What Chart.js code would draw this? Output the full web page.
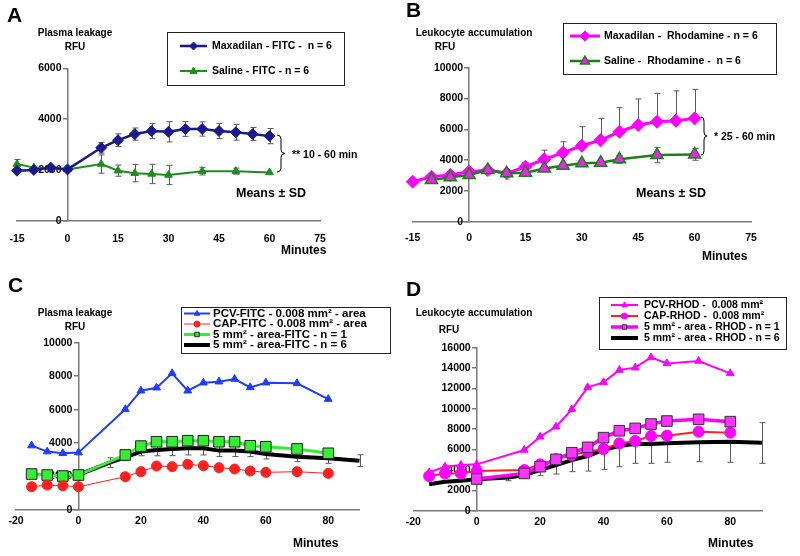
<!DOCTYPE html>
<html><head><meta charset="utf-8">
<style>
html,body{margin:0;padding:0;background:#fff;width:800px;height:556px;overflow:hidden}
canvas{position:absolute;left:0;top:0}
</style>
<script src="https://cdn.jsdelivr.net/npm/chart.js"></script>
</head><body>
<canvas id="cA" width="800" height="556"></canvas>
<canvas id="cB" width="800" height="556"></canvas>
<canvas id="cC" width="800" height="556"></canvas>
<canvas id="cD" width="800" height="556"></canvas>
<script>
// ---------- Panel A data ----------
const minutesA_max = [-15,-10,-5,0,10,15,20,25,30,35,40,45,50,55,60];
const maxadilanFITC = [1970,2000,2090,2020,2870,3170,3410,3530,3500,3610,3610,3530,3480,3410,3330];
const sdMaxadilanFITC = [0,0,0,0,210,250,240,300,400,290,280,300,310,260,300];
const minutesA_sal = [-15,-10,0,10,15,20,25,30,40,50,60];
const salineFITC = [2230,2090,2020,2230,1970,1870,1840,1800,1950,1950,1900];
const sdSalineFITC = [180,0,0,360,220,340,380,380,150,120,0];
const xTicksAB = [-15,0,15,30,45,60,75];
const yTicksA = [0,2000,4000,6000];

// ---------- Panel B data ----------
const minutesB_max = [-15,-10,-5,0,5,10,15,20,25,30,35,40,45,50,55,60];
const maxadilanRhod = [2600,2920,3030,3250,3350,3140,3570,4050,4480,4930,5300,5840,6280,6490,6560,6710];
const sdPlusMaxadilanRhod = [0,0,0,0,0,0,280,600,710,1240,1410,1560,1690,1840,1940,1880];
const minutesB_sal = [-10,-5,0,5,10,15,20,25,30,35,40,50,60];
const salineRhod = [2700,2880,3030,3350,3140,3180,3460,3640,3790,3830,4050,4330,4370];
const sdSalineRhod = [0,0,0,0,0,200,0,0,0,0,250,500,380];
const yTicksB = [0,2000,4000,6000,8000,10000];

// ---------- Panel C data ----------
const minutesC = [-15,-10,-5,0,15,20,25,30,35,40,45,50,55,60,70,80];
const pcvFITC = [3850,3490,3390,3430,6020,7130,7310,8170,7130,7610,7670,7830,7330,7610,7570,6630];
const capFITC = [1390,1490,1450,1390,1990,2290,2630,2590,2730,2650,2530,2450,2330,2250,2290,2190];
const area1FITC = [2150,2090,2030,2090,3290,3820,4080,4080,4140,4140,4080,4080,3840,3780,3650,3390];
const minutesC6 = [0,10,15,20,25,30,35,40,45,50,55,60,70,80,90];
const area6FITC = [2100,2830,3150,3490,3590,3650,3690,3690,3550,3550,3490,3350,3190,3090,2950];
const sdArea6FITC = [0,290,200,250,350,400,400,400,350,350,300,300,300,300,350];
const xTicksCD = [-20,0,20,40,60,80];
const yTicksC = [0,2000,4000,6000,8000,10000];

// ---------- Panel D data ----------
const minutesD = [-15,-10,-5,0,15,20,25,30,35,40,45,50,55,60,70,80];
const pcvRHOD = [3760,4320,4480,4550,5960,7260,8250,9950,12110,12600,13810,14040,15050,14460,14690,13480];
const capRHOD = [3400,3660,3660,3890,3990,4550,5040,5460,5790,6050,6610,6840,7330,7360,7760,7660];
const minutesD1 = [0,15,20,25,30,35,40,45,50,55,60,70,80];
const area1RHOD = [3110,3660,4320,5040,5690,6220,7170,7850,8080,8510,8800,8970,8740];
const minutesD6 = [-15,-10,-5,0,10,15,20,25,30,35,40,45,50,55,60,70,80,90];
const area6RHOD = [2590,2850,2950,3080,3270,3500,3990,4480,4970,5370,5960,6380,6540,6540,6610,6710,6770,6680];
const sdMinusArea6RHOD = [0,0,0,0,330,330,550,880,1140,1480,1900,2060,1890,1890,1860,1900,2020,2030];
const sdPlusArea6RHOD = [0,0,0,0,0,0,0,0,0,0,0,0,0,0,0,0,0,1960];
const yTicksD = [0,2000,4000,6000,8000,10000,12000,14000,16000];

// ---------- helpers ----------
const FF = '"Liberation Sans", Arial, Helvetica, sans-serif';
const AXC = '#7a7a7a';
const XH = 30;
function pts(xs, ys){ return xs.map((x,i)=>({x:x, y:ys[i]})); }

const errorBarPlugin = {
  id: 'errbars',
  beforeDatasetsDraw(chart){
    const ctx = chart.ctx, sx = chart.scales.x, sy = chart.scales.y;
    chart.data.datasets.forEach(ds=>{
      if(!ds.errMinus && !ds.errPlus) return;
      ctx.save();
      ctx.strokeStyle = '#5a5a5a'; ctx.lineWidth = 1;
      ds.data.forEach((p,i)=>{
        const m = ds.errMinus ? ds.errMinus[i] : 0;
        const pl = ds.errPlus ? ds.errPlus[i] : 0;
        if(!m && !pl) return;
        const px = Math.round(sx.getPixelForValue(p.x))+0.5;
        const yT = sy.getPixelForValue(p.y + pl), yB = sy.getPixelForValue(p.y - m);
        ctx.beginPath();
        ctx.moveTo(px, yT); ctx.lineTo(px, yB);
        if(pl){ ctx.moveTo(px-3, yT); ctx.lineTo(px+3, yT); }
        if(m){ ctx.moveTo(px-3, yB); ctx.lineTo(px+3, yB); }
        ctx.stroke();
      });
      ctx.restore();
    });
  }
};

function drawMarker(ctx, style, x, y, r, fill, stroke, lw){
  ctx.save();
  ctx.fillStyle = fill; ctx.strokeStyle = stroke; ctx.lineWidth = lw;
  ctx.beginPath();
  if(style === 'rectRot'){
    ctx.moveTo(x-r,y); ctx.lineTo(x,y-r); ctx.lineTo(x+r,y); ctx.lineTo(x,y+r); ctx.closePath();
  } else if(style === 'triangle'){
    ctx.moveTo(x, y-r); ctx.lineTo(x+r*0.9, y+r*0.6); ctx.lineTo(x-r*0.9, y+r*0.6); ctx.closePath();
  } else if(style === 'rect'){
    ctx.rect(x-r*0.75, y-r*0.75, r*1.5, r*1.5);
  } else if(style === 'circle'){
    ctx.arc(x,y,r,0,Math.PI*2);
  }
  if(style){ ctx.fill(); if(lw>0) ctx.stroke(); }
  ctx.restore();
}

function decoPlugin(spec){
  return {
    id: 'deco',
    beforeDatasetsDraw(chart){
      // y-axis tick labels (values from the library's own y scale ticks)
      const ctx = chart.ctx, sx = chart.scales.x, sy = chart.scales.y;
      const ax = sx.getPixelForValue(0);
      ctx.save();
      ctx.fillStyle = '#000'; ctx.font = 'bold 10.5px ' + FF;
      ctx.textAlign = 'right'; ctx.textBaseline = 'middle';
      sy.ticks.forEach(t => ctx.fillText(String(t.value), ax - 6, sy.getPixelForValue(t.value)));
      ctx.restore();
    },
    afterDraw(chart){
      const ctx = chart.ctx;
      ctx.save();
      ctx.fillStyle = '#000';
      ctx.textBaseline = 'middle';
      ctx.font = 'bold 21px ' + FF; ctx.textAlign = 'left';
      ctx.fillText(spec.letter.t, spec.letter.x, spec.letter.y);
      ctx.font = 'bold 10px ' + FF; ctx.textAlign = 'center';
      spec.ytitle.forEach(l=>ctx.fillText(l.t, l.x, l.y));
      ctx.font = 'bold 12px ' + FF; ctx.textAlign = 'left';
      ctx.fillText('Minutes', spec.minutes.x, spec.minutes.y);
      if(spec.means){ ctx.font = 'bold 12.5px ' + FF; ctx.fillText('Means \u00b1 SD', spec.means.x, spec.means.y); }
      if(spec.brace){
        const b = spec.brace;
        ctx.strokeStyle = '#000'; ctx.lineWidth = 1;
        const w = b.tip - b.x, ym = (b.y1+b.y2)/2, xh = b.x + w*0.5;
        ctx.beginPath();
        ctx.moveTo(b.x, b.y1);
        ctx.quadraticCurveTo(xh, b.y1, xh, b.y1+4);
        ctx.lineTo(xh, ym-4);
        ctx.quadraticCurveTo(xh, ym, b.tip, ym);
        ctx.quadraticCurveTo(xh, ym, xh, ym+4);
        ctx.lineTo(xh, b.y2-4);
        ctx.quadraticCurveTo(xh, b.y2, b.x, b.y2);
        ctx.stroke();
        ctx.font = 'bold 10.5px ' + FF; ctx.textAlign = 'left';
        ctx.fillText(b.text, b.tx, b.ty);
      }
      const L = spec.legend;
      ctx.strokeStyle = '#222'; ctx.lineWidth = 1;
      ctx.strokeRect(L.box[0]+0.5, L.box[1]+0.5, L.box[2]-L.box[0], L.box[3]-L.box[1]);
      L.rows.forEach(row=>{
        const ds = chart.data.datasets[row.ds];
        ctx.save();
        ctx.strokeStyle = ds.borderColor; ctx.lineWidth = ds.borderWidth;
        ctx.beginPath(); ctx.moveTo(L.line[0], row.y); ctx.lineTo(L.line[1], row.y); ctx.stroke();
        ctx.restore();
        if(ds.pointStyle && ds.pointRadius > 0){
          drawMarker(ctx, ds.pointStyle, (L.line[0]+L.line[1])/2, row.y, L.mr, ds.pointBackgroundColor, ds.pointBorderColor, ds.pointBorderWidth);
        }
        ctx.fillStyle = '#000';
        ctx.font = 'bold ' + L.fs + 'px ' + FF; ctx.textAlign = 'left';
        ctx.fillText(ds.label, L.tx, row.y);
      });
      ctx.restore();
    }
  };
}

function makeChart(id, cfg){
  const tickFont = {family: FF, size: 10.5, weight: 'bold'};
  return new Chart(document.getElementById(id), {
    type: 'line',
    data: {datasets: cfg.datasets},
    options: {
      responsive: false, animation: false, events: [],
      layout: {padding: {left: cfg.area.l, right: 800 - cfg.area.r, top: cfg.area.t, bottom: 556 - cfg.area.b - XH}},
      plugins: {legend: {display: false}, tooltip: {enabled: false}, title: {display: false}},
      elements: {line: {tension: 0}},
      datasets: {line: {clip: false}},
      scales: {
        x: {
          type: 'linear', position: 'bottom', min: cfg.xmin, max: cfg.xmax,
          afterFit: s => { s.height = XH; },
          afterBuildTicks: s => { s.ticks = cfg.xTicks.map(v=>({value: v})); },
          grid: {display: true, drawOnChartArea: false, drawTicks: true, tickLength: cfg.xtl, tickColor: 'rgba(0,0,0,0)', color: AXC},
          border: {display: true, color: AXC, width: 1.5},
          ticks: {font: tickFont, color: '#000', padding: 1, maxRotation: 0, autoSkip: false, callback: v => String(v)}
        },
        y: {
          type: 'linear', position: {x: 0}, min: 0, max: cfg.ymax,
          afterBuildTicks: s => { s.ticks = cfg.yTicks.map(v=>({value: v})); },
          grid: {display: true, drawOnChartArea: false, drawTicks: true, tickLength: 4, color: AXC, lineWidth: 1.5},
          border: {display: true, color: AXC, width: 1.5},
          ticks: {display: false, font: tickFont, color: '#000', autoSkip: false, callback: v => String(v)}
        }
      }
    },
    plugins: [errorBarPlugin, decoPlugin(cfg.deco)]
  });
}

// ---------- Panel A ----------
makeChart('cA', {
  area: {l: 17, r: 320, t: 68.3, b: 220.7}, xtl: 11,
  xmin: -15, xmax: 75, xTicks: xTicksAB, ymax: 6000, yTicks: yTicksA,
  datasets: [
    {label: 'Maxadilan - FITC -  n = 6', data: pts(minutesA_max, maxadilanFITC), errMinus: sdMaxadilanFITC, errPlus: sdMaxadilanFITC,
     borderColor: '#1a1a8c', borderWidth: 2.5, pointStyle: 'rectRot', pointRadius: 5.5, pointBackgroundColor: '#1a1a8c', pointBorderColor: '#1a1a8c', pointBorderWidth: 1, order: 1, clip: false},
    {label: 'Saline - FITC - n = 6', data: pts(minutesA_sal, salineFITC), errMinus: sdSalineFITC, errPlus: sdSalineFITC,
     borderColor: '#1f8c1f', borderWidth: 2, pointStyle: 'triangle', pointRadius: 4.5, pointBackgroundColor: '#1f8c1f', pointBorderColor: '#1f8c1f', pointBorderWidth: 1, order: 2, clip: false}
  ],
  deco: {
    letter: {t: 'A', x: 7, y: 16},
    ytitle: [{t: 'Plasma leakage', x: 75, y: 33}, {t: 'RFU', x: 75, y: 47}],
    minutes: {x: 281, y: 251}, means: {x: 236, y: 194},
    brace: {x: 277, tip: 285, y1: 135, y2: 172, text: '** 10 - 60 min', tx: 292, ty: 155},
    legend: {box: [167, 32, 344, 85], rows: [{ds: 0, y: 46}, {ds: 1, y: 71}], line: [180, 207], tx: 212, mr: 4, fs: 10.5}
  }
});

// ---------- Panel B ----------
makeChart('cB', {
  area: {l: 412.7, r: 751, t: 67.7, b: 221.7}, xtl: 9,
  xmin: -15, xmax: 75, xTicks: xTicksAB, ymax: 10000, yTicks: yTicksB,
  datasets: [
    {label: 'Maxadilan -  Rhodamine - n = 6', data: pts(minutesB_max, maxadilanRhod), errPlus: sdPlusMaxadilanRhod,
     borderColor: '#ff00ff', borderWidth: 3, pointStyle: 'rectRot', pointRadius: 6.5, pointBackgroundColor: '#ff00ff', pointBorderColor: '#ff00ff', pointBorderWidth: 1, order: 2, clip: false},
    {label: 'Saline -  Rhodamine -  n = 6', data: pts(minutesB_sal, salineRhod), errMinus: sdSalineRhod, errPlus: sdSalineRhod,
     borderColor: '#1a801a', borderWidth: 2.5, pointStyle: 'triangle', pointRadius: 7, pointBackgroundColor: '#ee22ee', pointBorderColor: '#1a801a', pointBorderWidth: 1.5, order: 1, clip: false}
  ],
  deco: {
    letter: {t: 'B', x: 406, y: 11},
    ytitle: [{t: 'Leukocyte accumulation', x: 474, y: 33}, {t: 'RFU', x: 445, y: 47}],
    minutes: {x: 702, y: 257}, means: {x: 636, y: 194},
    brace: {x: 701, tip: 707, y1: 117, y2: 155, text: '* 25 - 60 min', tx: 714, ty: 137},
    legend: {box: [563, 23, 776, 74], rows: [{ds: 0, y: 36}, {ds: 1, y: 61}], line: [570, 600], tx: 604, mr: 5, fs: 10.5}
  }
});

// ---------- Panel C ----------
makeChart('cC', {
  area: {l: 16, r: 359.5, t: 342.7, b: 510}, xtl: 4,
  xmin: -20, xmax: 90, xTicks: xTicksCD, ymax: 10000, yTicks: yTicksC,
  datasets: [
    {label: 'PCV-FITC - 0.008 mm\u00b2 - area', data: pts(minutesC, pcvFITC),
     borderColor: '#1f3cff', borderWidth: 2, pointStyle: 'triangle', pointRadius: 4.5, pointBackgroundColor: '#1f3cff', pointBorderColor: '#1f3cff', pointBorderWidth: 1, order: 1, clip: false},
    {label: 'CAP-FITC - 0.008 mm\u00b2 - area', data: pts(minutesC, capFITC),
     borderColor: '#ff2020', borderWidth: 1, pointStyle: 'circle', pointRadius: 5, pointBackgroundColor: '#ff2020', pointBorderColor: '#ff2020', pointBorderWidth: 1, order: 2, clip: false},
    {label: '5 mm\u00b2 - area-FITC - n = 1', data: pts(minutesC, area1FITC),
     borderColor: '#33ee33', borderWidth: 3, pointStyle: 'rect', pointRadius: 7.5, pointBackgroundColor: '#33ee33', pointBorderColor: '#222222', pointBorderWidth: 1, order: 3, clip: false},
    {label: '5 mm\u00b2 - area-FITC - n = 6', data: pts(minutesC6, area6FITC), errMinus: sdArea6FITC, errPlus: sdArea6FITC,
     borderColor: '#000000', borderWidth: 4, pointRadius: 0, order: 4, clip: false}
  ],
  deco: {
    letter: {t: 'C', x: 8, y: 286},
    ytitle: [{t: 'Plasma leakage', x: 75, y: 313}, {t: 'RFU', x: 75, y: 327}],
    minutes: {x: 293, y: 544},
    legend: {box: [181, 307, 390, 353], rows: [{ds: 0, y: 313.5}, {ds: 1, y: 324}, {ds: 2, y: 334.5}, {ds: 3, y: 345}], line: [184, 210], tx: 213, mr: 3, fs: 11.5}
  }
});

// ---------- Panel D ----------
makeChart('cD', {
  area: {l: 413.3, r: 762, t: 347.7, b: 510.7}, xtl: 4,
  xmin: -20, xmax: 90, xTicks: xTicksCD, ymax: 16000, yTicks: yTicksD,
  datasets: [
    {label: 'PCV-RHOD -  0.008 mm\u00b2', data: pts(minutesD, pcvRHOD),
     borderColor: '#ff00ff', borderWidth: 2, pointStyle: 'triangle', pointRadius: 4.5, pointBackgroundColor: '#ff00ff', pointBorderColor: '#ff00ff', pointBorderWidth: 1, order: 3, clip: false},
    {label: 'CAP-RHOD -  0.008 mm\u00b2', data: pts(minutesD, capRHOD),
     borderColor: '#ff2020', borderWidth: 2, pointStyle: 'circle', pointRadius: 5.5, pointBackgroundColor: '#ff00ff', pointBorderColor: '#ff00ff', pointBorderWidth: 1, order: 2, clip: false},
    {label: '5 mm\u00b2 - area - RHOD - n = 1', data: pts(minutesD1, area1RHOD),
     borderColor: '#ff00ff', borderWidth: 3.5, pointStyle: 'rect', pointRadius: 7.5, pointBackgroundColor: '#ff33ff', pointBorderColor: '#333333', pointBorderWidth: 1, order: 1, clip: false},
    {label: '5 mm\u00b2 - area - RHOD - n = 6', data: pts(minutesD6, area6RHOD), errMinus: sdMinusArea6RHOD, errPlus: sdPlusArea6RHOD,
     borderColor: '#000000', borderWidth: 4, pointRadius: 0, order: 4, clip: false}
  ],
  deco: {
    letter: {t: 'D', x: 406, y: 290},
    ytitle: [{t: 'Leukocyte accumulation', x: 474, y: 313}, {t: 'RFU', x: 449, y: 330}],
    minutes: {x: 708, y: 544},
    legend: {box: [599, 297, 786, 349], rows: [{ds: 0, y: 305}, {ds: 1, y: 316}, {ds: 2, y: 327}, {ds: 3, y: 338}], line: [611, 638], tx: 644, mr: 3, fs: 10.5}
  }
});
</script>
</body></html>
